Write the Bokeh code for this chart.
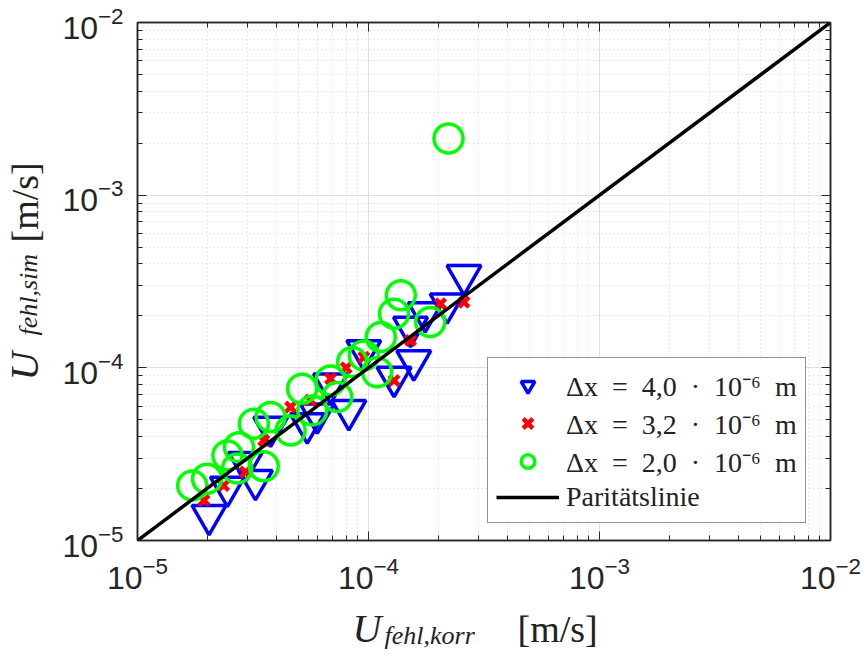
import math
from bokeh.plotting import figure
from bokeh.layouts import row, column
from bokeh.models import (Range1d, FixedTicker, LogAxis, Label, Legend, LegendItem)
from bokeh.embed import file_html
from bokeh.resources import INLINE

# ---- data ----
tri_x = [2.04e-5, 2.45e-5, 3.24e-5, 2.93e-5, 3.77e-5, 6.00e-5, 5.43e-5, 8.22e-5,
         6.85e-5, 9.54e-5, 1.29e-4, 1.57e-4, 1.52e-4, 2.19e-4, 2.59e-4, 1.76e-4]
tri_y = [1.40e-5, 2.04e-5, 2.23e-5, 2.84e-5, 4.54e-5, 5.42e-5, 4.75e-5, 5.67e-5,
         8.09e-5, 1.26e-4, 8.83e-5, 1.10e-4, 1.72e-4, 2.35e-4, 3.43e-4, 2.09e-4]

x_x = [1.94e-5, 2.36e-5, 2.93e-5, 3.52e-5, 4.60e-5, 6.85e-5, 9.54e-5, 1.29e-4,
       1.52e-4, 2.05e-4, 2.59e-4, 5.60e-5, 8.00e-5]
x_y = [1.71e-5, 2.08e-5, 2.49e-5, 3.80e-5, 5.92e-5, 8.65e-5, 1.15e-4, 8.45e-5,
       1.44e-4, 2.35e-4, 2.40e-4, 6.50e-5, 1.00e-4]

circ_x = [1.725e-5, 2.00e-5, 2.45e-5, 2.75e-5, 2.70e-5, 3.52e-5, 3.19e-5, 3.77e-5,
          4.60e-5, 5.16e-5, 5.71e-5, 6.85e-5, 7.32e-5, 8.50e-5, 9.54e-5, 1.09e-4,
          1.13e-4, 1.29e-4, 1.38e-4, 1.85e-4, 2.22e-4]
circ_y = [2.08e-5, 2.28e-5, 3.11e-5, 3.47e-5, 2.61e-5, 2.69e-5, 4.75e-5, 5.19e-5,
          4.34e-5, 7.57e-5, 5.67e-5, 8.45e-5, 6.77e-5, 1.08e-4, 1.18e-4, 9.44e-5,
          1.51e-4, 2.06e-4, 2.63e-4, 1.84e-4, 2.13e-3]

parity_x = [1e-5, 1e-2]
parity_y = [1e-5, 1e-2]

major_ticks = [1e-5, 1e-4, 1e-3, 1e-2]
minor_ticks = [m * 10.0 ** e for e in (-5, -4, -3) for m in range(2, 10)]

SP = "\u2002"  # en space, approximates math spacing
legend_labels = ["\u0394x" + SP + "=" + SP + "4,0" + SP + "\u00b7" + SP + "10\u207b\u2076" + SP + "m",
                 "\u0394x" + SP + "=" + SP + "3,2" + SP + "\u00b7" + SP + "10\u207b\u2076" + SP + "m",
                 "\u0394x" + SP + "=" + SP + "2,0" + SP + "\u00b7" + SP + "10\u207b\u2076" + SP + "m",
                 "Parit\u00e4tslinie"]

x_label_parts = ["U", "fehl,korr", "[m/s]"]
y_label_parts = ["U", "fehl,sim", "[m/s]"]

AX = "#262626"
TXT = "#222222"
SERIF = "Liberation Serif"
SANS = "Liberation Sans"

YLAB_W = 55
MAIN_H = 605

p = figure(width=865 - YLAB_W, height=MAIN_H, x_axis_type="log", y_axis_type="log",
           x_range=Range1d(1e-5, 1e-2), y_range=Range1d(1e-5, 1e-2),
           output_backend="svg", toolbar_location=None,
           min_border_left=137 - YLAB_W, min_border_right=35,
           min_border_top=22, min_border_bottom=MAIN_H - 540)
p.background_fill_color = "white"
p.border_fill_color = "white"
p.outline_line_color = AX
p.outline_line_width = 1.5

tk = FixedTicker(ticks=major_ticks, minor_ticks=minor_ticks)

for ax in (p.xaxis[0], p.yaxis[0]):
    ax.ticker = tk
    ax.axis_line_color = AX
    ax.axis_line_width = 1.5
    ax.major_tick_in = 9
    ax.major_tick_out = 0
    ax.minor_tick_in = 5
    ax.minor_tick_out = 0
    ax.major_tick_line_color = AX
    ax.minor_tick_line_color = AX
    ax.major_label_text_font = SANS
    ax.major_label_text_font_size = "32px"
    ax.major_label_text_color = AX
p.xaxis.major_label_standoff = 16
p.yaxis.major_label_standoff = 14

for loc in ("above", "right"):
    a = LogAxis(ticker=tk, axis_line_color=AX, axis_line_width=1.5,
                major_tick_in=9, major_tick_out=0, minor_tick_in=5, minor_tick_out=0,
                major_tick_line_color=AX, minor_tick_line_color=AX,
                major_label_text_font_size="4px", major_label_text_alpha=0.0,
                major_label_standoff=0)
    p.add_layout(a, loc)

for g in (p.xgrid[0], p.ygrid[0]):
    g.ticker = tk
    g.grid_line_color = "#dedede"
    g.grid_line_width = 1
    g.minor_grid_line_color = "#d0d0d0"
    g.minor_grid_line_dash = "1 3"
    g.minor_grid_line_width = 1

r_tri = p.scatter(tri_x, tri_y, marker="inverted_triangle", size=34,
                  fill_color=None, line_color="#0000ff", line_width=3.5)
r_x = p.scatter(x_x, x_y, marker="x", size=14, line_color="#ff0000", line_width=4.5)
r_c = p.scatter(circ_x, circ_y, marker="circle", size=29,
                fill_color=None, line_color="#00ff00", line_width=3.5)
r_l = p.line(parity_x, parity_y, line_color="black", line_width=3.5)

legend = Legend(items=[LegendItem(label=legend_labels[0], renderers=[r_tri]),
                       LegendItem(label=legend_labels[1], renderers=[r_x]),
                       LegendItem(label=legend_labels[2], renderers=[r_c]),
                       LegendItem(label=legend_labels[3], renderers=[r_l])],
                location=(350, 17), label_text_font=SERIF,
                label_text_font_size="28px", label_text_color=TXT,
                glyph_width=63, glyph_height=34, label_height=34,
                label_standoff=7, padding=8, spacing=-3, margin=0,
                border_line_color=AX, border_line_width=1.5,
                background_fill_alpha=1.0)
p.add_layout(legend, "center")


def blank(width, height):
    f = figure(width=width, height=height, x_range=Range1d(0, 1), y_range=Range1d(0, 1),
               output_backend="svg", toolbar_location=None,
               min_border=0, min_border_left=0, min_border_right=0,
               min_border_top=0, min_border_bottom=0)
    f.axis.visible = False
    f.grid.visible = False
    f.outline_line_color = None
    f.background_fill_color = "white"
    f.border_fill_color = "white"
    return f


lab_kw = dict(x_units="screen", y_units="screen", text_color=TXT,
              text_baseline="alphabetic", text_align="left")

# x-axis label strip (below the main plot; its frame is aligned with the main frame)
xl = blank(865 - YLAB_W, 655 - MAIN_H)
xl.add_layout(Label(x=215, y=27, text=x_label_parts[0], text_font=SERIF,
                    text_font_style="italic", text_font_size="40px", **lab_kw))
xl.add_layout(Label(x=247, y=20, text=x_label_parts[1], text_font=SERIF,
                    text_font_style="italic", text_font_size="26px", **lab_kw))
xl.add_layout(Label(x=380, y=27, text=x_label_parts[2], text_font=SERIF,
                    text_font_size="38px", **lab_kw))

# y-axis label strip (left of the main plot)
yl = blank(YLAB_W, 655)
yl.add_layout(Label(x=24, y=275, angle=math.pi / 2, text=y_label_parts[0], text_font=SERIF,
                    text_font_style="italic", text_font_size="40px", **lab_kw))
yl.add_layout(Label(x=28, y=320, angle=math.pi / 2, text=y_label_parts[1], text_font=SERIF,
                    text_font_style="italic", text_font_size="26px", **lab_kw))
yl.add_layout(Label(x=24, y=413, angle=math.pi / 2, text=y_label_parts[2], text_font=SERIF,
                    text_font_size="38px", **lab_kw))

layout = row(yl, column(p, xl, spacing=0), spacing=0)

open("out.html", "w").write(file_html(layout, INLINE))
